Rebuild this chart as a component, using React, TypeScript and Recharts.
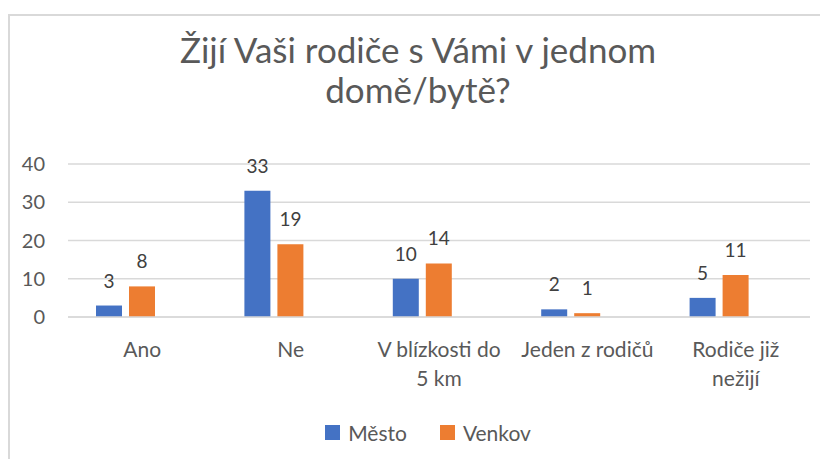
import React from "react";
import { BarChart, Bar, XAxis, YAxis, CartesianGrid, LabelList, Legend } from "recharts";

const categories = ["Ano", "Ne", "V blízkosti do 5 km", "Jeden z rodičů", "Rodiče již nežijí"];
const tickLines = [["Ano"], ["Ne"], ["V blízkosti do", "5 km"], ["Jeden z rodičů"], ["Rodiče již", "nežijí"]];
const mesto = [3, 33, 10, 2, 5];
const venkov = [8, 19, 14, 1, 11];
const yTicks = [0, 10, 20, 30, 40];
const seriesNames = ["Město", "Venkov"];
const colors = ["#4472C4", "#ED7D31"];
const titleLines = ["Žijí Vaši rodiče s Vámi v jednom", "domě/bytě?"];

const data = categories.map((c, i) => ({ name: c, idx: i, mesto: mesto[i], venkov: venkov[i] }));

const FONT = "Lato, 'Open Sans', sans-serif";

const CatTick = (props: any) => {
  const { x, y, payload } = props;
  const lines = tickLines[payload.index] || [payload.value];
  return (
    <g>
      {lines.map((l: string, i: number) => (
        <text key={i} x={x} y={y + 23 + i * 29} textAnchor="middle" dominantBaseline="central" fill="#595959" fontSize={21} fontFamily={FONT}>
          {l}
        </text>
      ))}
    </g>
  );
};

const LegendContent = () => (
  <div style={{ display: "flex", justifyContent: "center", alignItems: "center", fontFamily: FONT, fontSize: 21, color: "#595959", height: 26, paddingLeft: 20 }}>
    {seriesNames.map((n, i) => (
      <div key={n} style={{ display: "flex", alignItems: "center", marginRight: i === 0 ? 33 : 0 }}>
        <span style={{ display: "inline-block", width: 15, height: 15, background: colors[i], marginRight: 8 }} />
        <span>{n}</span>
      </div>
    ))}
  </div>
);

export default function App() {
  return (
    <div style={{ position: "relative", width: 820, height: 451, background: "#fff" }}>
      <div style={{ position: "absolute", left: 0, top: 6, right: 0, bottom: 0, borderLeft: "2px solid #d9d9d9", borderTop: "2px solid #d9d9d9" }} />
      <div style={{ position: "absolute", left: 0, width: 820, top: 21, textAlign: "center", fontFamily: FONT, fontSize: 35, lineHeight: "40px", color: "#595959" }}>
        {titleLines.map((t) => (
          <div key={t}>{t}</div>
        ))}
      </div>
      <div style={{ position: "absolute", left: 0, top: 0 }}>
        <BarChart width={820} height={451} data={data} margin={{ top: 156, right: 18, bottom: 62, left: 0 }} barSize={26} barGap={7}>
          <CartesianGrid vertical={false} stroke="#d9d9d9" strokeWidth={1.5} />
          <XAxis dataKey="name" height={80} tickLine={false} axisLine={{ stroke: "#d9d9d9", strokeWidth: 1.5 }} tick={<CatTick />} interval={0} />
          <YAxis width={60} domain={[0, 40]} ticks={yTicks} tickLine={false} axisLine={false} tickMargin={17} tick={{ fill: "#595959", fontSize: 20, fontFamily: FONT }} />
          <Bar dataKey="mesto" name={seriesNames[0]} fill={colors[0]} isAnimationActive={false}>
            <LabelList dataKey="mesto" position="top" offset={18} fill="#404040" fontSize={19} fontFamily={FONT} />
          </Bar>
          <Bar dataKey="venkov" name={seriesNames[1]} fill={colors[1]} isAnimationActive={false}>
            <LabelList dataKey="venkov" position="top" offset={18} fill="#404040" fontSize={19} fontFamily={FONT} />
          </Bar>
          <Bar dataKey="blank" fill="#ffffff" legendType="none" isAnimationActive={false} />
          <Legend verticalAlign="middle" align="center" layout="horizontal" content={<LegendContent />} wrapperStyle={{ top: 411, left: 0, width: 820 }} />
        </BarChart>
      </div>
    </div>
  );
}
